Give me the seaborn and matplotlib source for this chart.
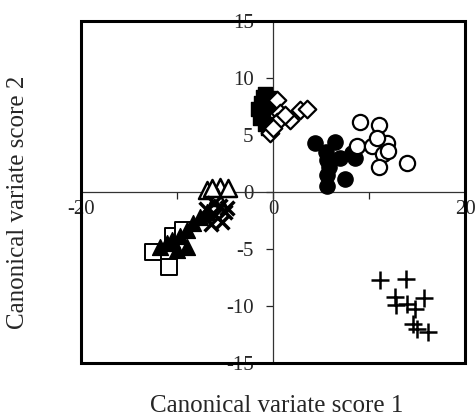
import matplotlib
matplotlib.use("Agg")
import matplotlib.pyplot as plt
import seaborn as sns
from matplotlib.patches import Rectangle

# canonical variate scores, one pair of lists per group
sq_fill_x = [-0.8, -0.4, -1.3, -1.6, -1.0, -1.4, -0.8, -0.5, -0.3, -1.1]
sq_fill_y = [8.6, 8.2, 7.8, 7.3, 7.0, 6.5, 6.0, 5.6, 7.5, 8.3]

diam_x = [0.4, 0.7, 2.8, 1.8, 0.4, -0.3, 1.25, 3.5, 0.0]
diam_y = [8.1, 6.9, 7.2, 6.3, 6.1, 5.2, 6.75, 7.3, 5.6]

circ_fill_x = [4.4, 6.5, 8.2, 5.6, 5.5, 5.6, 5.6, 7.5, 7.0, 8.5, 5.8]
circ_fill_y = [4.3, 4.4, 3.4, 2.8, 3.5, 1.5, 0.5, 1.1, 3.0, 3.0, 2.2]

circ_open_x = [9.1, 11.0, 8.7, 10.3, 11.9, 11.5, 11.0, 14.0, 12.0, 10.8]
circ_open_y = [6.1, 5.9, 4.0, 4.0, 4.3, 3.3, 2.2, 2.5, 3.6, 4.7]

plus_x = [11.1, 13.8, 12.7, 12.8, 15.7, 14.8, 14.6, 15.0, 16.1, 13.9]
plus_y = [-7.7, -7.6, -9.2, -9.9, -9.3, -10.3, -11.6, -12.0, -12.3, -9.8]

sq_open_x = [-12.5, -10.8, -10.4, -9.4]
sq_open_y = [-5.3, -6.6, -3.9, -3.3]

tri_fill_x = [-11.8, -11.0, -9.7, -9.0, -8.3, -7.6, -9.0, -6.9, -10.0, -10.5]
tri_fill_y = [-4.8, -4.5, -3.9, -3.3, -2.7, -2.2, -4.8, -1.8, -5.1, -4.2]

tri_open_x = [-6.9, -5.5, -5.8, -4.7, -6.4]
tri_open_y = [0.2, 0.45, -0.45, 0.35, 0.35]

cross_x = [-5.5, -5.0, -6.0, -5.3, -6.5, -7.0, -4.8, -6.2]
cross_y = [-1.2, -1.8, -2.0, -2.6, -2.8, -1.5, -1.4, -1.0]

x_ticks = [-20, -10, 0, 10, 20]
x_labels = ['-20', '', '0', '', '20']
y_ticks = [-15, -10, -5, 0, 5, 10, 15]

sns.set_style("white")
plt.rcParams['font.family'] = ['Liberation Serif', 'DejaVu Serif']
plt.rcParams['axes.unicode_minus'] = False

fig = plt.figure(figsize=(4.77, 4.2), dpi=100)
ax = fig.add_axes([0.170, 0.136, 0.805, 0.814])

k = dict(ax=ax, legend=False, zorder=3)
sns.scatterplot(x=sq_fill_x, y=sq_fill_y, marker='s', s=100, color='black', edgecolor='black', linewidth=1, **k)
sns.scatterplot(x=diam_x, y=diam_y, marker='D', s=80, facecolor='white', edgecolor='black', linewidth=1.6, **k)
sns.scatterplot(x=circ_fill_x, y=circ_fill_y, marker='o', s=120, color='black', edgecolor='black', linewidth=1, **k)
sns.scatterplot(x=circ_open_x, y=circ_open_y, marker='o', s=120, facecolor='white', edgecolor='black', linewidth=1.6, **k)
sns.scatterplot(x=plus_x, y=plus_y, marker='+', s=150, color='black', linewidth=1.8, **k)
sns.scatterplot(x=sq_open_x, y=sq_open_y, marker='s', s=140, facecolor='white', edgecolor='black', linewidth=1.4, **k)
sns.scatterplot(x=tri_fill_x, y=tri_fill_y, marker='^', s=130, color='black', edgecolor='black', linewidth=1, **k)
sns.scatterplot(x=tri_open_x, y=tri_open_y, marker='^', s=150, facecolor='white', edgecolor='black', linewidth=1.8, **k)
sns.scatterplot(x=cross_x, y=cross_y, marker='x', s=100, color='black', linewidth=2.5, **k)

ax.set_xlim(-20, 20)
ax.set_ylim(-15, 15)

# axes through the origin, box drawn separately
for side in ['left', 'bottom']:
    ax.spines[side].set_position('zero')
    ax.spines[side].set_linewidth(0.9)
    ax.spines[side].set_color('#333333')
for side in ['top', 'right']:
    ax.spines[side].set_visible(False)
ax.add_patch(Rectangle((0, 0), 1, 1, transform=ax.transAxes, fill=False,
                       lw=2.2, edgecolor='black', clip_on=False, zorder=5))

ax.set_xticks(x_ticks)
ax.set_xticklabels(x_labels)
ax.set_yticks(y_ticks)
ax.tick_params(direction='out', length=5, width=0.9, labelsize=15,
               bottom=True, left=True)
ax.tick_params(axis='x', pad=1)
ax.tick_params(axis='y', pad=9)

ax.set_xlabel('Canonical variate score 1', fontsize=18)
ax.set_ylabel('Canonical variate score 2', fontsize=18)
ax.xaxis.set_label_coords(0.51, -0.095)
ax.yaxis.set_label_coords(-0.135, 0.47)

fig.savefig('out.png', dpi=100)
